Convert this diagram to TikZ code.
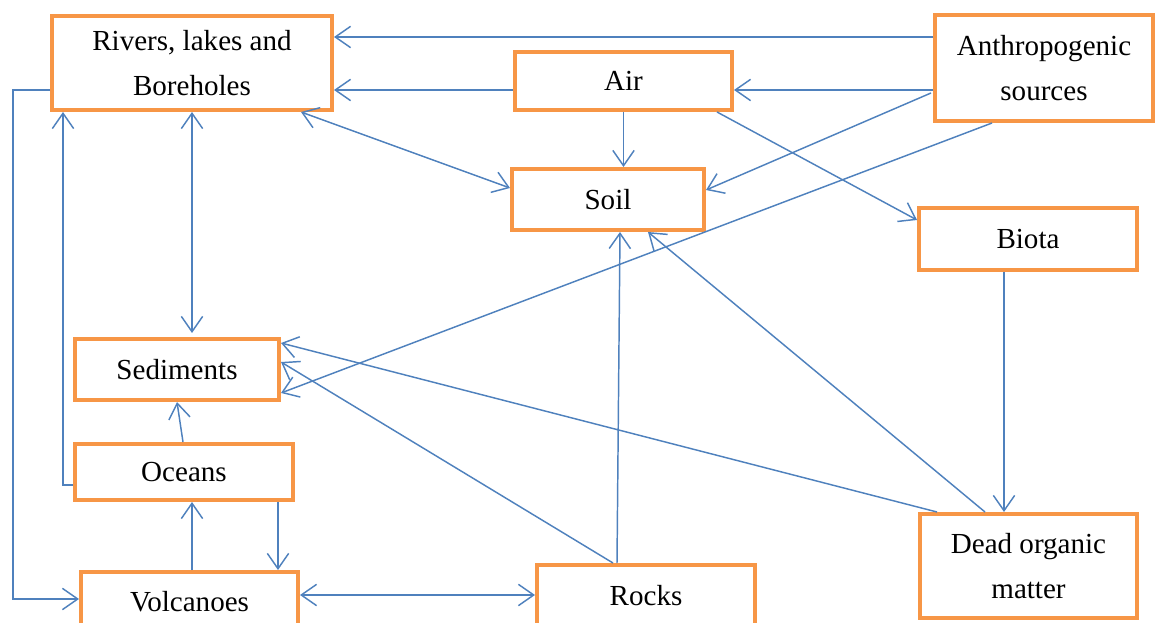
\documentclass[tikz,border=0pt]{standalone}
\usepackage{fontspec}
\setmainfont{Liberation Serif}
\usetikzlibrary{arrows.meta,calc}
\definecolor{boxorange}{RGB}{247,150,70}
\definecolor{lineblue}{RGB}{79,129,189}

\begin{document}
\begin{tikzpicture}[x=0.75pt,y=0.75pt,yscale=-1,xscale=1,
	box/.style={draw=boxorange, line width=3pt, align=center, inner sep=0pt, font=\fontsize{21.8}{33.5}\selectfont},
	flow/.style={draw=lineblue, line width=1.1pt},
	>={Straight Barb[length=11.5pt,width=16pt]}]
	\clip (0,0) rectangle (1156,623); %picture is 1156 x 623

	% Boxes
	\node[box, minimum width=210pt, minimum height=70.5pt] (rlb) at (192,63) {Rivers, lakes and\\Boreholes};
	\node[box, minimum width=162.75pt, minimum height=43.5pt] (air) at (623.5,81) {Air};
	\node[box, minimum width=163.5pt, minimum height=79.5pt] (anthro) at (1044,68) {Anthropogenic\\sources};
	\node[box, minimum width=144pt, minimum height=45.75pt] (soil) at (608,199.5) {Soil};
	\node[box, minimum width=163.5pt, minimum height=46.5pt] (biota) at (1028,239) {Biota};
	\node[box, minimum width=153pt, minimum height=45.75pt] (sed) at (177,369.5) {Sediments};
	\node[box, minimum width=163.5pt, minimum height=42pt] (oceans) at (184,472) {Oceans};
	\node[box, minimum width=162.75pt, minimum height=45pt] (volc) at (189.5,602) {Volcanoes};
	\node[box, minimum width=163.5pt, minimum height=46.5pt] (rocks) at (646,596) {Rocks};
	\node[box, minimum width=162.75pt, minimum height=78pt] (dom) at (1028.5,566) {Dead organic\\matter};

	% Straight Lines from the top row
	\coordinate (a1) at ($(anthro.west)+(0,-31)$);
	\draw[flow,->] (a1) -- (a1 -| rlb.east);
	\coordinate (a2) at ($(air.west)+(0,9)$);
	\draw[flow,->] (a2) -- (a2 -| rlb.east);
	\coordinate (a3) at ($(anthro.west)+(0,22)$);
	\draw[flow,->] (a3) -- (a3 -| air.east);
	\draw[flow,->] ($(anthro.west)+(-2,25)$) -- ($(soil.east)+(0,-9.5)$);
	\draw[flow,->] ($(anthro.south)+(-52,0)$) -- ($(sed.east)+(0,23.5)$);
	\draw[flow,->] (air.south) -- (air.south |- soil.north);
	\draw[flow,->] ($(air.south east)+(-17,0)$) -- ($(biota.north west)+(0,14)$);
	\draw[flow,<->] ($(rlb.south east)+(-33,0)$) -- ($(soil.west)+(0,-11.5)$);
	\draw[flow,<->] (rlb.south) -- ($(rlb.south |- sed.north)+(0,-4)$);

	% Elbow lines on the left
	\draw[flow,->] ($(rlb.west)+(0,27)$) -- ++(-37,0) |- ($(volc.west)+(0,-3)$);
	\draw[flow,->] ($(oceans.west)+(0,13)$) -| ($(rlb.south west)+(13,0)$);

	% Straight Lines round Oceans and Volcanoes
	\draw[flow,->] ($(oceans.north)+(-1,0)$) -- (sed.south);
	\coordinate (v1) at ($(volc.north)+(2.5,0)$);
	\draw[flow,->] (v1) -- (v1 |- oceans.south);
	\coordinate (o1) at ($(oceans.south)+(94,0)$);
	\draw[flow,->] (o1) -- (o1 |- volc.north);
	\coordinate (v2) at ($(volc.east)+(0,-7)$);
	\draw[flow,<->] (v2) -- (v2 -| rocks.west);

	% Straight Lines from Rocks, Biota and Dead organic matter
	\draw[flow,->] ($(rocks.north)+(-29,0)$) -- ($(soil.south)+(12,0)$);
	\draw[flow,->] ($(rocks.north)+(-33,0)$) -- ($(sed.east)+(0,-7.5)$);
	\draw[flow,->] ($(dom.north)+(-43.5,0)$) -- ($(soil.south)+(40,0)$);
	\draw[flow,->] ($(dom.north west)+(19,0)$) -- ($(sed.east)+(0,-26.5)$);
	\coordinate (b1) at ($(biota.south)+(-24,0)$);
	\draw[flow,->] (b1) -- (b1 |- dom.north);
\end{tikzpicture}
\end{document}
